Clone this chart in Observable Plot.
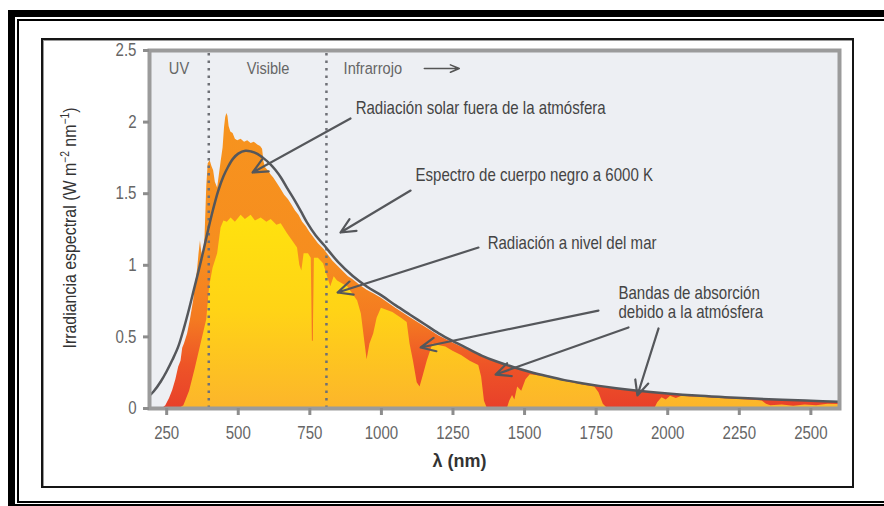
<!DOCTYPE html>
<html><head><meta charset="utf-8">
<script src="https://cdn.jsdelivr.net/npm/d3@7"></script>
<script src="https://cdn.jsdelivr.net/npm/@observablehq/plot@0.6"></script>
<style>
html,body{margin:0;padding:0;background:#fff;}
#page{position:relative;width:884px;height:506px;overflow:hidden;background:#fff;}
.b{position:absolute;background:#000;}
#box{position:absolute;left:41px;top:38px;width:809px;height:446px;border:2px solid #151515;box-shadow: inset 1px 1px 0 #9a9a9a;}
#chart{position:absolute;left:0;top:0;}
</style></head><body>
<div id="page">
 <div class="b" style="left:8px;top:10px;width:7px;height:496px"></div>
 <div class="b" style="left:8px;top:10px;width:876px;height:7px"></div>
 <div class="b" style="left:17px;top:19px;width:867px;height:2px"></div>
 <div class="b" style="left:17px;top:19px;width:2px;height:484px"></div>
 <div class="b" style="left:17px;top:501px;width:867px;height:2px"></div>
 <div class="b" style="left:15px;top:504px;width:869px;height:2px"></div>
 <div id="box"></div>
 <div id="chart"></div>
</div>
<script>
const FONT = '"Liberation Sans","Arial",sans-serif';

const xTicks = [250,500,750,1000,1250,1500,1750,2000,2250,2500];
const yTicks = [0,0.5,1,1.5,2,2.5];
const regionBounds = [397, 808];

// Black body spectrum (6000 K), [nm, W m-2 nm-1]
const blackbody = [[190,0.09],[205,0.12],[230,0.19],[250,0.26],[270,0.34],[290,0.43],[310,0.56],[325,0.67],[345,0.83],[360,0.95],[378,1.10],[395,1.25],[412,1.39],[430,1.52],[448,1.62],[465,1.69],[482,1.745],[500,1.78],[525,1.80],[545,1.795],[565,1.78],[590,1.745],[610,1.71],[630,1.665],[650,1.61],[672,1.535],[695,1.46],[718,1.38],[740,1.30],[770,1.21],[800,1.14],[850,1.02],[900,0.925],[950,0.85],[1000,0.79],[1050,0.72],[1100,0.655],[1150,0.59],[1200,0.525],[1250,0.47],[1300,0.42],[1350,0.37],[1400,0.33],[1460,0.29],[1520,0.255],[1580,0.225],[1640,0.198],[1700,0.177],[1760,0.158],[1820,0.142],[1880,0.128],[1940,0.116],[2000,0.105],[2100,0.09],[2200,0.079],[2300,0.069],[2400,0.061],[2500,0.054],[2600,0.048]];

// Solar radiation outside the atmosphere
const extraterrestrial = [[235,0],[247,0.02],[260,0.07],[271,0.125],[282,0.2],[292,0.29],[300,0.33],[306,0.42],[312,0.45],[323,0.52],[333,0.62],[344,0.75],[352,0.88],[358,0.97],[363,1.08],[368,1.17],[372,1.1],[378,1.04],[384,1.2],[390,1.55],[395,1.71],[402,1.73],[408,1.69],[414,1.66],[420,1.58],[428,1.54],[434,1.63],[440,1.72],[447,1.82],[452,1.96],[456,2.03],[460,2.06],[464,2.04],[468,1.97],[474,1.93],[482,1.92],[490,1.88],[498,1.87],[510,1.88],[522,1.86],[533,1.87],[545,1.85],[556,1.86],[568,1.84],[578,1.83],[585,1.81],[590,1.72],[596,1.68],[605,1.66],[615,1.63],[624,1.61],[640,1.56],[650,1.53],[662,1.49],[675,1.46],[688,1.42],[700,1.38],[712,1.35],[725,1.30],[738,1.27],[750,1.23],[765,1.19],[780,1.15],[800,1.11],[815,1.07],[830,1.03],[850,0.99],[870,0.95],[885,0.92],[900,0.90],[925,0.86],[950,0.825],[975,0.80],[1000,0.77],[1050,0.70],[1100,0.635],[1150,0.572],[1200,0.508],[1250,0.457],[1300,0.41],[1350,0.363],[1400,0.323],[1460,0.284],[1520,0.249],[1580,0.219],[1640,0.192],[1700,0.171],[1760,0.152],[1820,0.136],[1880,0.122],[1940,0.11],[2000,0.099],[2100,0.084],[2200,0.073],[2300,0.063],[2400,0.055],[2500,0.048],[2600,0.042]];

// Radiation at sea level
const seaLevel = [[295,0],[310,0.02],[330,0.12],[350,0.28],[370,0.45],[390,0.62],[400,0.85],[412,0.98],[428,1.08],[440,1.26],[450,1.31],[462,1.30],[475,1.33],[490,1.30],[510,1.35],[525,1.32],[545,1.35],[560,1.31],[580,1.33],[600,1.30],[615,1.32],[635,1.28],[650,1.29],[672,1.22],[690,1.17],[707,1.12],[715,1.0],[722,0.96],[730,1.08],[745,1.08],[755,1.05],[759,0.47],[762,0.47],[766,1.05],[780,1.05],[798,1.01],[815,0.90],[823,0.85],[835,0.92],[847,0.89],[865,0.87],[882,0.85],[900,0.80],[917,0.75],[930,0.66],[940,0.50],[950,0.34],[960,0.45],[973,0.52],[985,0.63],[1000,0.70],[1040,0.67],[1070,0.63],[1090,0.60],[1100,0.45],[1112,0.33],[1125,0.18],[1135,0.15],[1145,0.22],[1160,0.33],[1180,0.45],[1200,0.44],[1225,0.43],[1250,0.40],[1280,0.37],[1310,0.33],[1340,0.30],[1350,0.22],[1360,0.05],[1370,0],[1440,0],[1448,0.05],[1458,0.09],[1466,0.06],[1476,0.15],[1490,0.12],[1505,0.2],[1520,0.235],[1560,0.225],[1600,0.21],[1650,0.185],[1700,0.165],[1745,0.15],[1760,0.11],[1775,0.03],[1790,0],[1955,0],[1965,0.04],[1980,0.075],[1995,0.06],[2010,0.085],[2030,0.07],[2050,0.085],[2080,0.08],[2120,0.078],[2160,0.072],[2200,0.068],[2250,0.062],[2300,0.058],[2330,0.053],[2345,0.03],[2360,0.02],[2400,0.025],[2440,0.015],[2480,0.025],[2520,0.02],[2560,0.03],[2600,0.028]];

const regionLabelsMid = [{text:"UV", l:293, v:2.374},{text:"Visible", l:604, v:2.374}];
const regionLabelsStart = [{text:"Infrarrojo", l:868, v:2.374}];
const infraArrow = [{l1:1150, v1:2.374, l2:1272, v2:2.374}];

const notes = [
  {text:"Radiación solar fuera de la atmósfera", l:910, v:2.095},
  {text:"Espectro de cuerpo negro a 6000 K", l:1119, v:1.627},
  {text:"Radiación a nivel del mar", l:1371, v:1.152},
  {text:"Bandas de absorción", l:1828, v:0.803},
  {text:"debido a la atmósfera", l:1828, v:0.670}
];
const pointers = [
  {l1:892, v1:2.025, l2:550, v2:1.648},
  {l1:1102, v1:1.522, l2:857, v2:1.229},
  {l1:1339, v1:1.124, l2:847, v2:0.810},
  {l1:1758, v1:0.684, l2:1137, v2:0.426},
  {l1:1863, v1:0.566, l2:1399, v2:0.237},
  {l1:1968, v1:0.559, l2:1894, v2:0.091}
];
const xTitle = [{text:"λ (nm)", l:1273}];

const toObj = a => a.map(([l,v]) => ({l, v}));

const chart = Plot.plot({
  width: 884, height: 506,
  marginLeft: 149, marginRight: 45, marginTop: 50, marginBottom: 98,
  x: {domain: [190, 2600]},
  y: {domain: [0, 2.5]},
  style: {background: "transparent", fontFamily: FONT, fontSize: "17px", overflow: "visible"},
  marks: [
    Plot.frame({fill: "#edeff3", stroke: "none"}),
    Plot.areaY(toObj(extraterrestrial), {x: "l", y: "v", fill: "url(#gEtr)"}),
    Plot.areaY(toObj(seaLevel), {x: "l", y: "v", fill: "url(#gSea)"}),
    Plot.ruleX(regionBounds, {y1: 0, y2: 2.5, stroke: "#6e7076", strokeWidth: 2.5, strokeDasharray: "2.5,5"}),
    Plot.line(toObj(blackbody), {x: "l", y: "v", stroke: "#55575b", strokeWidth: 2.5, curve: "catmull-rom"}),
    Plot.frame({stroke: "#9b9b9b", strokeWidth: 4}),
    Plot.axisX({ticks: xTicks, tickSize: 7, tickPadding: 11, tickFormat: d => String(d), stroke: "#8d8d8d", strokeWidth: 3, fill: "#666", fontSize: 17.5, label: null}),
    Plot.axisY({ticks: yTicks, tickSize: 6, tickPadding: 7, tickFormat: d => String(d), stroke: "#8d8d8d", strokeWidth: 3, fill: "#666", fontSize: 17.5, label: null}),
    Plot.text(regionLabelsMid, {x: "l", y: "v", text: "text", fill: "#666", fontSize: 17, textAnchor: "middle"}),
    Plot.text(regionLabelsStart, {x: "l", y: "v", text: "text", fill: "#666", fontSize: 17, textAnchor: "start"}),
    Plot.arrow(infraArrow, {x1: "l1", y1: "v1", x2: "l2", y2: "v2", stroke: "#555", strokeWidth: 1.6, headLength: 9, headAngle: 45}),
    Plot.arrow(pointers, {x1: "l1", y1: "v1", x2: "l2", y2: "v2", stroke: "#55575b", strokeWidth: 2.2, headLength: 11, headAngle: 50}),
    Plot.text(notes, {x: "l", y: "v", text: "text", fill: "#444", fontSize: 17.5, textAnchor: "start"}),
    Plot.text(xTitle, {x: "l", frameAnchor: "bottom", dy: 58, text: "text", fill: "#333", fontSize: 18, fontWeight: "bold", textAnchor: "middle"})
  ]
});

const svg = d3.select(chart);
const defs = svg.insert("defs", ":first-child");
const g1 = defs.append("linearGradient").attr("id", "gEtr").attr("x1", 0).attr("y1", 0).attr("x2", 0).attr("y2", 1);
[[0,"#f7941e"],[0.5,"#f68d1f"],[0.7,"#f47a21"],[0.85,"#ee5527"],[1,"#e8402a"]].forEach(([o,c]) => g1.append("stop").attr("offset", o).attr("stop-color", c));
const g2 = defs.append("linearGradient").attr("id", "gSea").attr("x1", 0).attr("y1", 0).attr("x2", 0).attr("y2", 1);
[[0,"#ffe20e"],[0.5,"#ffd316"],[1,"#fcb52b"]].forEach(([o,c]) => g2.append("stop").attr("offset", o).attr("stop-color", c));

// horizontally condense the (non-bold) texts, about each text's own anchor point
svg.selectAll("text").each(function() {
  if (this.textContent === "λ (nm)") return;
  const tr = this.getAttribute("transform") || "";
  this.setAttribute("transform", `${tr} scale(0.86,1)`);
});

const t = svg.append("text").attr("transform", "translate(76,228) rotate(-90) scale(0.86,1)")
  .attr("text-anchor", "middle").attr("font-family", FONT).attr("font-size", 18.5).attr("fill", "#333");
t.append("tspan").text("Irradiancia espectral (W m");
t.append("tspan").attr("dy", -7).attr("font-size", 12).text("−2");
t.append("tspan").attr("dy", 7).text(" nm");
t.append("tspan").attr("dy", -7).attr("font-size", 12).text("−1");
t.append("tspan").attr("dy", 7).text(")");

document.getElementById("chart").appendChild(chart);
</script>
</body></html>
